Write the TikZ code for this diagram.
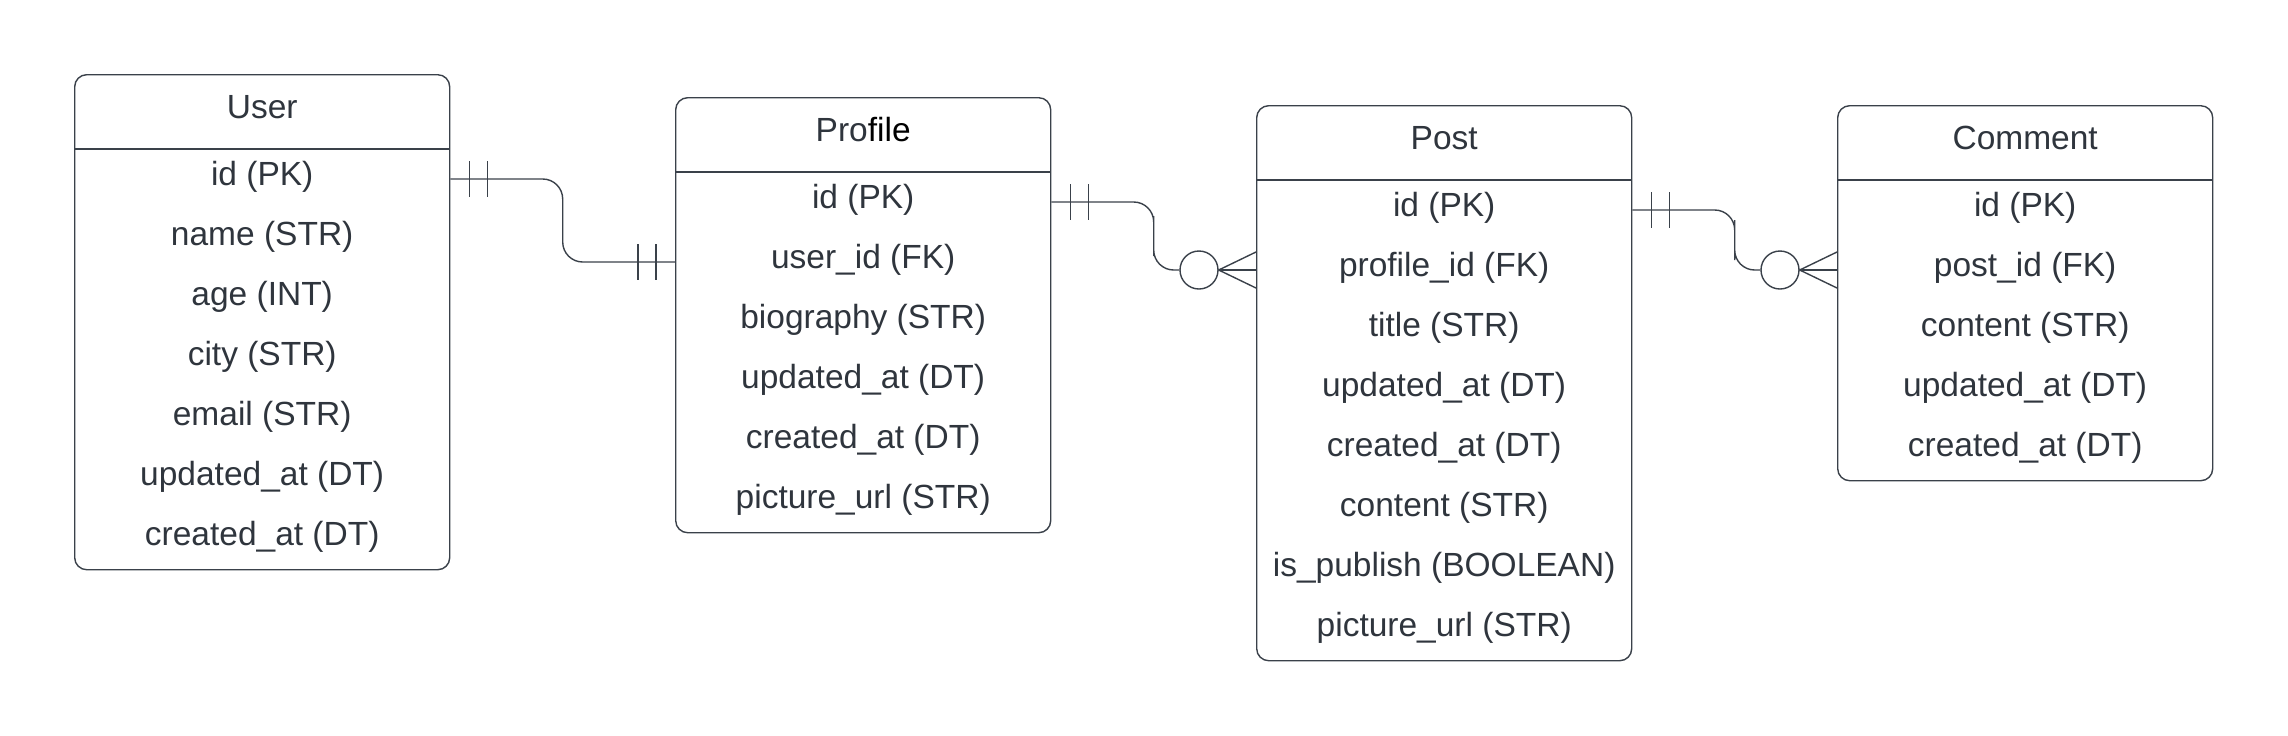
\documentclass[tikz,border=0pt]{standalone}
\usepackage{fontspec}
\setmainfont{Liberation Sans}
\usetikzlibrary{calc}
\definecolor{erInk}{HTML}{3A414A}
\definecolor{erText}{HTML}{2F353D}
\tikzset{erBox/.style={draw=erInk,line width=0.7pt,rounded corners=6pt,anchor=north west,minimum width=187.5pt,inner sep=0pt},
         erTxt/.style={text=erText,font=\fontsize{16.75}{20}\selectfont,text height=12pt,text depth=3pt,inner sep=0pt},
         erLn/.style={draw=erInk,line width=0.7pt},
         erCirc/.style={circle,draw=erInk,line width=0.7pt,fill=white,minimum size=19pt,inner sep=0pt}}

\begin{document}
\begin{tikzpicture}[x=0.5pt,y=-0.5pt]
    \useasboundingbox (0,0) rectangle (2288,735);
    % entities
    \node[erBox,minimum height=247.5pt] (user) at (74,74) {};
    \node[erTxt] at ($(user.north)+(0,35)$) {User};
    \draw[erLn] ($(user.north west)+(0,75)$) -- ($(user.north east)+(0,75)$);
    \foreach \r [count=\i] in {id (PK),name (STR),age (INT),city (STR),email (STR),updated\_at (DT),created\_at (DT)}
      \node[erTxt] (user\i) at ($(user.north)+(0,42+60*\i)$) {\r};
    \node[erBox,minimum height=217.5pt] (profile) at (675,97) {};
    \node[erTxt] at ($(profile.north)+(0,35)$) {Pro\textcolor{black}{file}};
    \draw[erLn] ($(profile.north west)+(0,75)$) -- ($(profile.north east)+(0,75)$);
    \foreach \r [count=\i] in {id (PK),user\_id (FK),biography (STR),updated\_at (DT),created\_at (DT),picture\_url (STR)}
      \node[erTxt] (profile\i) at ($(profile.north)+(0,42+60*\i)$) {\r};
    \node[erBox,minimum height=277.5pt] (post) at (1256,105) {};
    \node[erTxt] at ($(post.north)+(0,35)$) {Post};
    \draw[erLn] ($(post.north west)+(0,75)$) -- ($(post.north east)+(0,75)$);
    \foreach \r [count=\i] in {id (PK),profile\_id (FK),title (STR),updated\_at (DT),created\_at (DT),content (STR),is\_publish (BOOLEAN),picture\_url (STR)}
      \node[erTxt] (post\i) at ($(post.north)+(0,42+60*\i)$) {\r};
    \node[erBox,minimum height=187.5pt] (comment) at (1837,105) {};
    \node[erTxt] at ($(comment.north)+(0,35)$) {Comment};
    \draw[erLn] ($(comment.north west)+(0,75)$) -- ($(comment.north east)+(0,75)$);
    \foreach \r [count=\i] in {id (PK),post\_id (FK),content (STR),updated\_at (DT),created\_at (DT)}
      \node[erTxt] (comment\i) at ($(comment.north)+(0,42+60*\i)$) {\r};
    % user -- profile (one to one)
    \coordinate (r1a) at ($(user.east |- user1)+(0,3)$); \coordinate (r1b) at ($(profile.west |- profile2)+(0,3)$);
    \draw[erLn,rounded corners=10pt] (r1a) -| ($(r1a)!.5!(r1b)$) |- (r1b);
    \foreach \d in {19,37} {\draw[erLn] ($(r1a)+(\d,-18)$) -- ($(r1a)+(\d,18)$);
      \draw[erLn] ($(r1b)+(-\d,-18)$) -- ($(r1b)+(-\d,18)$);}
    % profile -- post, post -- comment (one to many)
    \foreach \a/\b/\n in {profile/post/2,post/comment/3}
      {\coordinate (r\n a) at ($(\a.east |- \a1)+(0,3)$); \coordinate (r\n b) at ($(\b.west |- \b2)+(0,3)$);
       \node[erCirc] (c\n) at ($(r\n b)+(-57,0)$) {};
       \draw[erLn,rounded corners=10pt] (r\n a) -| ($(r\n a)!.5!(r\n b)$) |- (c\n.west);
       \foreach \d in {19,37} \draw[erLn] ($(r\n a)+(\d,-18)$) -- ($(r\n a)+(\d,18)$);
       \draw[erLn] ($(r\n b)+(0,-18)$) -- (c\n.east) -- ($(r\n b)+(0,18)$);
       \draw[erLn] (c\n.east) -- (r\n b);}
  \end{tikzpicture}
\end{document}
